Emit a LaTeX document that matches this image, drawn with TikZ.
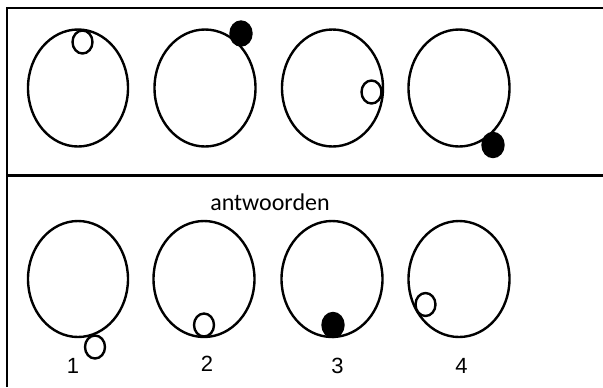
\documentclass[tikz,border=0pt]{standalone}
\usepackage{fontspec}
\setmainfont{Carlito}
\newfontfamily\digitfont{Liberation Sans}
\usepackage{tikz}
\tikzset{every picture/.style={line width=1.8pt}}
\tikzset{
  wheel/.style={draw=black},
  ballopen/.style={draw=black,fill=white},
  ballfull/.style={draw=black,fill=black},
  numlabel/.style={inner sep=0.75pt,font=\digitfont\fontsize{16.5}{19}\selectfont}
}

\begin{document}
\begin{tikzpicture}[x=0.75pt,y=0.75pt,yscale=-1]
\useasboundingbox (0,0) rectangle (603,387);

%Straight Lines
\draw    (7,387) -- (7,8) -- (603,8) ;
%Straight Lines
\draw    (7,175.5) -- (603,175.5) ;

%Shape: Ellipse (top row)
\draw [wheel] (78,88) ellipse (50 and 58.5) ;
\draw [wheel] (205,88) ellipse (50.5 and 58.5) ;
\draw [wheel] (332.5,88) ellipse (50.5 and 58.5) ;
\draw [wheel] (459,88) ellipse (50.5 and 58.5) ;

%Shape: Ellipse (top row balls)
\draw [ballopen] (82.5,42) ellipse (10 and 11.5) ;
\draw [ballfull] (241,33.5) ellipse (10.5 and 12) ;
\draw [ballopen] (371.5,92) ellipse (10 and 11.5) ;
\draw [ballfull] (493,145) ellipse (10.5 and 12) ;

% Text Node
\draw (270,202.5) node [inner sep=0.75pt,font=\fontsize{18}{21}\selectfont] (title) {antwoorden};

%Shape: Ellipse (bottom row)
\draw [wheel] (78,279) ellipse (50 and 58) ;
\draw [wheel] (204,279) ellipse (50.5 and 58) ;
\draw [wheel] (332,279) ellipse (50.5 and 58) ;
\draw [wheel] (459,279) ellipse (50.5 and 58) ;

%Shape: Ellipse (bottom row balls)
\draw [ballopen] (95,347) ellipse (10 and 11.5) ;
\draw [ballopen] (204,325) ellipse (10 and 11.5) ;
\draw [ballfull] (333,325) ellipse (10.5 and 12) ;
\draw [ballopen] (425.5,304.5) ellipse (10 and 11.5) ;

% Text Node
\draw (73,366) node [numlabel] (ans1) {1};
% Text Node
\draw (207,364) node [numlabel] (ans2) {2};
% Text Node
\draw (337.5,366) node [numlabel] (ans3) {3};
% Text Node
\draw (461.5,366) node [numlabel] (ans4) {4};

\end{tikzpicture}
\end{document}
